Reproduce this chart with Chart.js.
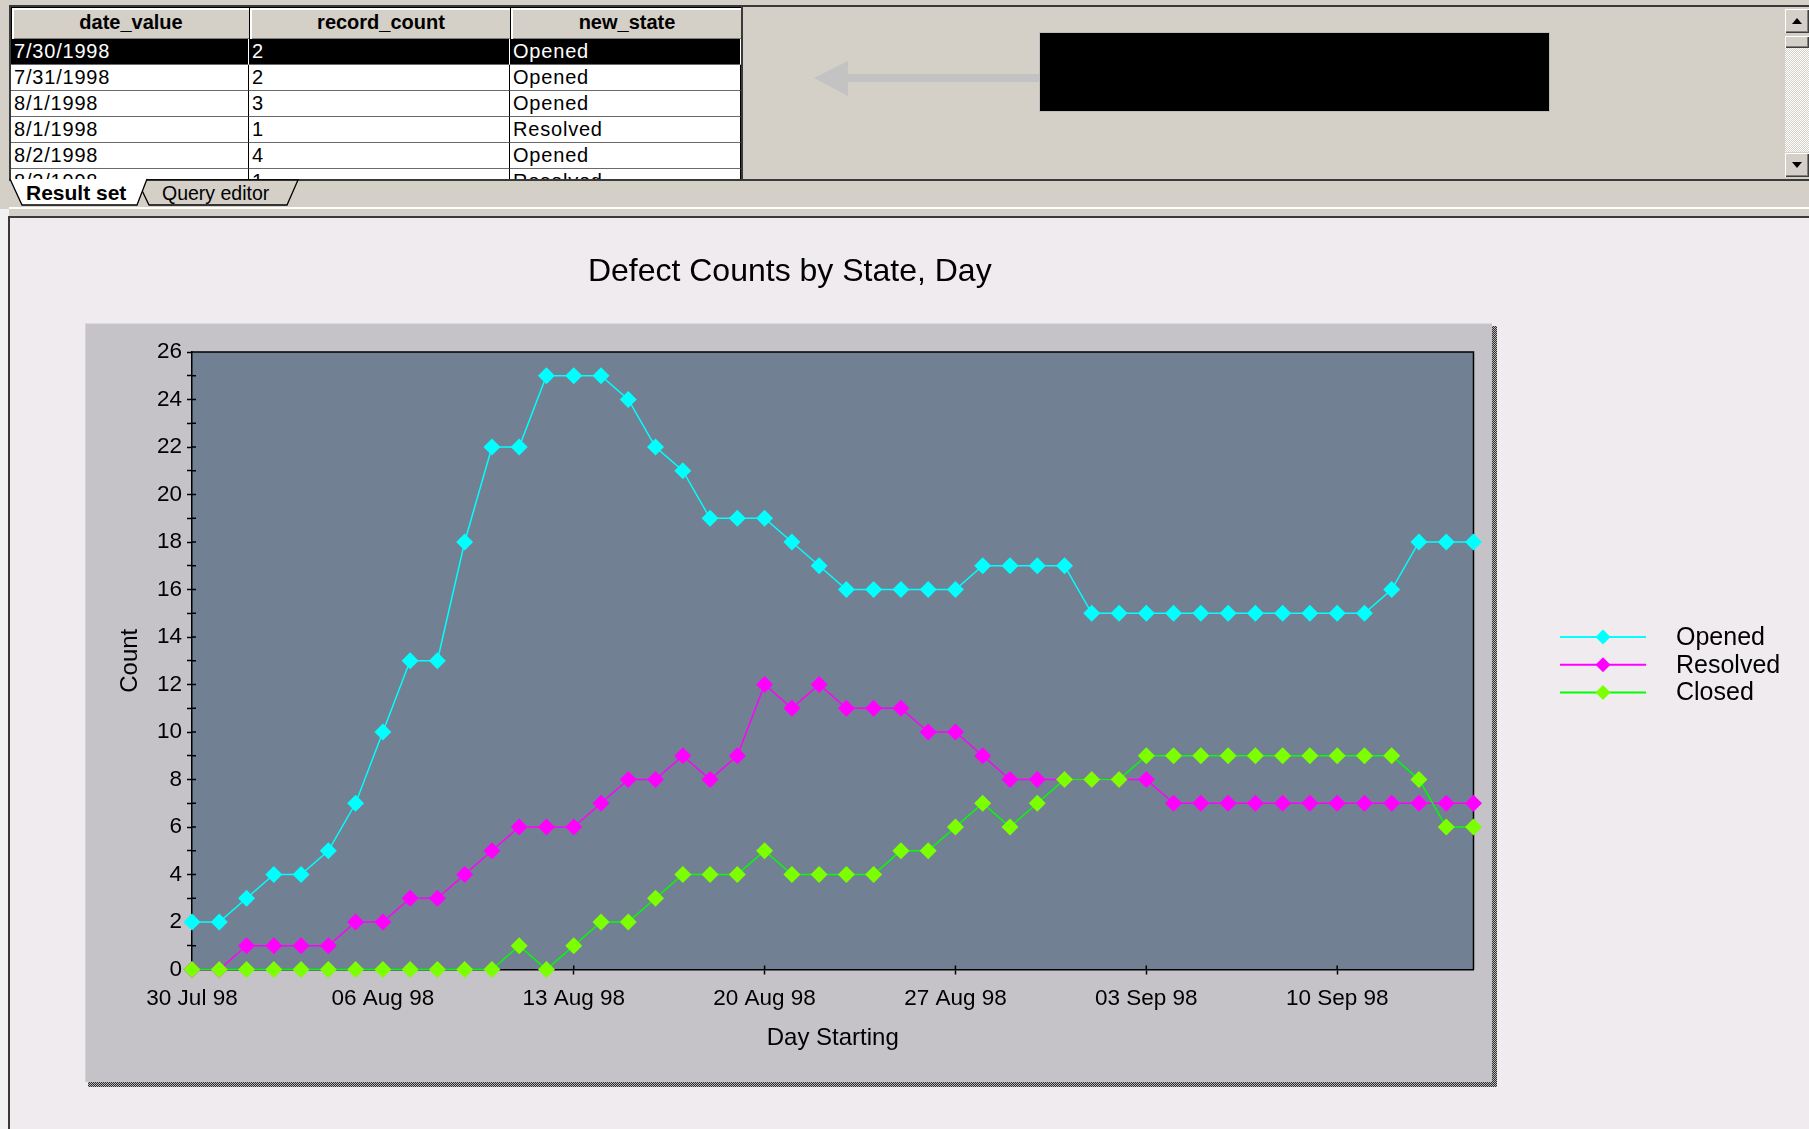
<!DOCTYPE html>
<html>
<head>
<meta charset="utf-8">
<title>Defect Counts by State, Day</title>
<script src="https://cdn.jsdelivr.net/npm/chart.js@4.4.1/dist/chart.umd.min.js"></script>
<style>
  html, body { margin: 0; padding: 0; }
  body {
    width: 1809px; height: 1129px; overflow: hidden; position: relative;
    background: #D4D0C8; font-family: 'Liberation Sans', Arial, sans-serif; color: #000;
  }
  .abs { position: absolute; box-sizing: border-box; }
  #topbox { left: 9px; top: 5px; width: 1800px; height: 176px;
    border-top: 2px solid #3a3a3a; border-left: 2px solid #3a3a3a; border-bottom: 2px solid #3a3a3a; background: #D4D0C8; }
  #gridwrap { left: 11px; top: 7px; width: 731px; height: 172px; overflow: hidden; background: #fff; }
  .hcell { position: absolute; top: 0; height: 31px; background: #D4D0C8; border: 1px solid #000;
    box-shadow: inset 2px 2px #fff, inset -1px -1px #808080; font-weight: bold; font-size: 20px;
    line-height: 29px; text-align: center; }
  .row { position: absolute; left: 0; width: 731px; height: 26px; }
  .cell { position: absolute; top: 0; height: 26px; border-right: 1px solid #000; border-bottom: 1px solid #6a6a6a;
    font-size: 20px; letter-spacing: 0.8px; line-height: 25px; padding-left: 3px; box-sizing: border-box; background: #fff; }
  .sel .cell { background: #000; color: #fff; border-right: 1px solid #fff; }
  .c1 { left: 0; width: 238px; } .c2 { left: 238px; width: 261px; } .c3 { left: 499px; width: 231px; }
  #sepline { left: 741px; top: 7px; width: 2px; height: 172px; background: #3a3a3a; }
  #blackbox { left: 1040px; top: 33px; width: 509px; height: 78px; background: #000; outline: 1px solid #bdbdbd; }
  #scroll { left: 1785px; top: 7px; width: 24px; height: 172px; background: #D4D0C8; }
  .sbtn { position: absolute; left: 0; width: 24px; background: #D4D0C8;
    box-shadow: inset 1px 1px #fff, inset -1px -1px #404040, inset -2px -2px #808080; }
  #track { position: absolute; left: 0; top: 41px; width: 24px; height: 104px;
    background: repeating-conic-gradient(#ffffff 0 25%, #D4D0C8 0 50%) 0 0 / 2px 2px; }
  .tabtxt { position: absolute; top: 181px; height: 24px; line-height: 24px; white-space: nowrap; }
  #panel { left: 8px; top: 216px; width: 1801px; height: 913px; background: #EFEBEF;
    border-left: 2px solid #3a3a3a; border-top: 2px solid #3a3a3a; }
  #frame { left: 85px; top: 323px; width: 1407px; height: 759px; background: #C5C3C7;
    border-top: 1px solid #dcdadd; border-left: 1px solid #d4d2d5; }
  .shadow { background: repeating-conic-gradient(#2e2e2e 0 25%, #b8b8b8 0 50%) 0 0 / 2px 2px; }
  #chart { position: absolute; left: 9px; top: 218px; }
</style>
</head>
<body>
<div id="topbox" class="abs"></div>

<div id="gridwrap" class="abs">
  <div class="hcell" style="left:0;width:238px;">date_value</div>
  <div class="hcell" style="left:238px;width:262px;">record_count</div>
  <div class="hcell" style="left:499px;width:232px;">new_state</div>
  <div class="row sel" style="top:32px;"><div class="cell c1">7/30/1998</div><div class="cell c2">2</div><div class="cell c3">Opened</div></div>
  <div class="row" style="top:58px;"><div class="cell c1">7/31/1998</div><div class="cell c2">2</div><div class="cell c3">Opened</div></div>
  <div class="row" style="top:84px;"><div class="cell c1">8/1/1998</div><div class="cell c2">3</div><div class="cell c3">Opened</div></div>
  <div class="row" style="top:110px;"><div class="cell c1">8/1/1998</div><div class="cell c2">1</div><div class="cell c3">Resolved</div></div>
  <div class="row" style="top:136px;"><div class="cell c1">8/2/1998</div><div class="cell c2">4</div><div class="cell c3">Opened</div></div>
  <div class="row" style="top:162px;"><div class="cell c1">8/2/1998</div><div class="cell c2">1</div><div class="cell c3">Resolved</div></div>
</div>
<div id="sepline" class="abs"></div>

<svg class="abs" style="left:810px;top:58px;" width="236" height="42">
  <polygon points="4,20 38,3 38,16 233,16 233,24 38,24 38,38" fill="#C3C3C3"/>
</svg>
<div id="blackbox" class="abs"></div>

<div id="scroll" class="abs">
  <div class="sbtn" style="top:2px;height:24px;">
    <svg width="24" height="24"><polygon points="7,15 17,15 12,9" fill="#000"/></svg>
  </div>
  <div class="sbtn" style="top:29px;height:12px;"></div>
  <div id="track"></div>
  <div class="sbtn" style="top:146px;height:24px;">
    <svg width="24" height="24"><polygon points="7,9 17,9 12,15" fill="#000"/></svg>
  </div>
</div>

<!-- sheet tabs -->
<svg class="abs" style="left:9px;top:178px;" width="300" height="30">
  <polygon points="128,2 289,2 278,27 140,27" fill="#D4D0C8" stroke="#000" stroke-width="1.3"/>
  <polygon points="1,1 138,1 128,27 13,27" fill="#ffffff"/>
  <polyline points="1,1 13,27 128,27 138,1" fill="none" stroke="#000" stroke-width="1.3"/>
</svg>
<div class="tabtxt" style="left:26px;font-weight:bold;font-size:21px;">Result set</div>
<div class="tabtxt" style="left:162px;font-size:19.5px;">Query editor</div>

<div class="abs" style="left:9px;top:207px;width:1800px;height:2px;background:#fff;"></div>
<div class="abs" style="left:0;top:209px;width:9px;height:920px;background:#F2F2F2;"></div>
<div id="panel" class="abs"></div>

<div id="frame" class="abs"></div>
<div class="abs shadow" style="left:1492px;top:326px;width:5px;height:761px;"></div>
<div class="abs shadow" style="left:88px;top:1082px;width:1409px;height:5px;"></div>

<canvas id="chart" width="1800" height="911"></canvas>

<script>
// Days plotted along the x axis
const days = [
  '30 Jul 98', '31 Jul 98',
  '01 Aug 98', '02 Aug 98', '03 Aug 98', '04 Aug 98', '05 Aug 98', '06 Aug 98', '07 Aug 98',
  '08 Aug 98', '09 Aug 98', '10 Aug 98', '11 Aug 98', '12 Aug 98', '13 Aug 98', '14 Aug 98',
  '15 Aug 98', '16 Aug 98', '17 Aug 98', '18 Aug 98', '19 Aug 98', '20 Aug 98', '21 Aug 98',
  '22 Aug 98', '23 Aug 98', '24 Aug 98', '25 Aug 98', '26 Aug 98', '27 Aug 98', '28 Aug 98',
  '29 Aug 98', '30 Aug 98', '31 Aug 98',
  '01 Sep 98', '02 Sep 98', '03 Sep 98', '04 Sep 98', '05 Sep 98', '06 Sep 98', '07 Sep 98',
  '08 Sep 98', '09 Sep 98', '10 Sep 98', '11 Sep 98', '12 Sep 98', '13 Sep 98', '14 Sep 98',
  '15 Sep 98'
];

// Defect counts per state for each day
const opened = [2, 2, 3, 4, 4, 5, 7, 10, 13, 13, 18, 22, 22, 25, 25, 25, 24, 22, 21, 19, 19, 19,
  18, 17, 16, 16, 16, 16, 16, 17, 17, 17, 17, 15, 15, 15, 15, 15, 15, 15, 15, 15, 15, 15, 16, 18, 18, 18];
const resolved = [0, 0, 1, 1, 1, 1, 2, 2, 3, 3, 4, 5, 6, 6, 6, 7, 8, 8, 9, 8, 9, 12,
  11, 12, 11, 11, 11, 10, 10, 9, 8, 8, 8, 8, 8, 8, 7, 7, 7, 7, 7, 7, 7, 7, 7, 7, 7, 7];
const closed = [0, 0, 0, 0, 0, 0, 0, 0, 0, 0, 0, 0, 1, 0, 1, 2, 2, 3, 4, 4, 4, 5,
  4, 4, 4, 4, 5, 5, 6, 7, 6, 7, 8, 8, 8, 9, 9, 9, 9, 9, 9, 9, 9, 9, 9, 8, 6, 6];

const seriesNames = ['Opened', 'Resolved', 'Closed'];
const yTicks = { min: 0, max: 26, step: 1, labelEvery: 2 };
const labelEveryDays = 7;

const FONT = "'Liberation Sans', Arial, sans-serif";
const PLOT_BG = '#718093';

// Plot background, outline and the short inner tick marks
const plotFrame = {
  id: 'plotFrame',
  beforeDraw(chart) {
    const { ctx, chartArea: a } = chart;
    ctx.save();
    ctx.fillStyle = PLOT_BG;
    ctx.fillRect(a.left, a.top, a.right - a.left, a.bottom - a.top);
    ctx.restore();
  },
  beforeDatasetsDraw(chart) {
    const { ctx, chartArea: a, scales: { x, y } } = chart;
    ctx.save();
    ctx.strokeStyle = '#000';
    ctx.lineWidth = 1.5;
    ctx.beginPath();
    ctx.moveTo(a.left, a.top); ctx.lineTo(a.right, a.top); ctx.lineTo(a.right, a.bottom);
    y.ticks.forEach(t => {
      const py = y.getPixelForValue(t.value);
      ctx.moveTo(a.left, py); ctx.lineTo(a.left + 4, py);
    });
    x.ticks.forEach((t, i) => {
      if (i % labelEveryDays === 0) {
        const px = x.getPixelForTick(i);
        ctx.moveTo(px, a.bottom); ctx.lineTo(px, a.bottom - 4);
      }
    });
    ctx.stroke();
    ctx.restore();
  }
};

// Legend on the right: line sample with a diamond marker, then the series name
const sideLegend = {
  id: 'sideLegend',
  afterDraw(chart) {
    const { ctx } = chart;
    const x0 = 1551, y0 = 419, step = 27.7, len = 86;
    ctx.save();
    chart.data.datasets.forEach((ds, i) => {
      const y = y0 + i * step;
      ctx.strokeStyle = ds.borderColor;
      ctx.lineWidth = 2;
      ctx.beginPath(); ctx.moveTo(x0, y); ctx.lineTo(x0 + len, y); ctx.stroke();
      const cx = x0 + len / 2, r = 7.5;
      ctx.fillStyle = ds.pointBackgroundColor;
      ctx.beginPath();
      ctx.moveTo(cx, y - r); ctx.lineTo(cx + r, y); ctx.lineTo(cx, y + r); ctx.lineTo(cx - r, y);
      ctx.closePath(); ctx.fill();
      ctx.fillStyle = '#000';
      ctx.font = '25px ' + FONT;
      ctx.textBaseline = 'middle';
      ctx.textAlign = 'left';
      ctx.fillText(ds.label, x0 + 116, y + 1);
    });
    ctx.restore();
  }
};

function series(label, data, line, marker, order) {
  return {
    label, data, order,
    borderColor: line, backgroundColor: marker,
    pointBackgroundColor: marker, pointBorderColor: marker,
    borderWidth: 1.5, pointStyle: 'rectRot', pointRadius: 8.5, pointBorderWidth: 0,
    tension: 0, fill: false, clip: false
  };
}

new Chart(document.getElementById('chart'), {
  type: 'line',
  data: {
    labels: days,
    datasets: [
      series(seriesNames[0], opened, '#00FFFF', '#00FFFF', 3),
      series(seriesNames[1], resolved, '#FF00FF', '#FF00FF', 2),
      series(seriesNames[2], closed, '#00FF00', '#7CFF00', 1)
    ]
  },
  options: {
    responsive: false,
    animation: false,
    devicePixelRatio: 1,
    layout: { padding: { left: 97, right: 335.5, top: 0, bottom: 59.5 } },
    plugins: {
      legend: { display: false },
      tooltip: { enabled: false },
      title: {
        display: true,
        text: 'Defect Counts by State, Day',
        color: '#000',
        font: { family: FONT, size: 32, weight: 'normal', lineHeight: 1.2 },
        padding: { top: 35, bottom: 60.6 }
      }
    },
    scales: {
      x: {
        type: 'category',
        offset: false,
        grid: {
          display: true, drawOnChartArea: false, drawTicks: true, tickLength: 5, tickWidth: 1.5,
          tickColor: c => (c.index % labelEveryDays === 0 ? '#000' : 'rgba(0,0,0,0)')
        },
        border: { display: true, color: '#000', width: 1.5 },
        ticks: {
          autoSkip: false, maxRotation: 0, minRotation: 0, padding: 11, color: '#000',
          font: { family: FONT, size: 22.5 },
          callback: (v, i) => (i % labelEveryDays === 0 ? days[i] : '')
        },
        title: {
          display: true, text: 'Day Starting', color: '#000',
          font: { family: FONT, size: 24 }, padding: { top: 0, bottom: 17 }
        },
        afterFit: s => { s.height = 100; }
      },
      y: {
        min: yTicks.min, max: yTicks.max,
        grid: { display: true, drawOnChartArea: false, drawTicks: true, tickLength: 5, tickWidth: 1.5, tickColor: '#000' },
        border: { display: true, color: '#000', width: 1.5 },
        ticks: {
          stepSize: yTicks.step, maxTicksLimit: 40, autoSkip: false, padding: 5, color: '#000',
          font: { family: FONT, size: 22.5 },
          callback: v => (v % yTicks.labelEvery === 0 ? v : '')
        },
        title: {
          display: true, text: 'Count', color: '#000',
          font: { family: FONT, size: 24 }, padding: { top: 9.6, bottom: 0 }
        },
        afterFit: s => { s.width = 86; }
      }
    }
  },
  plugins: [plotFrame, sideLegend]
});
</script>
</body>
</html>
